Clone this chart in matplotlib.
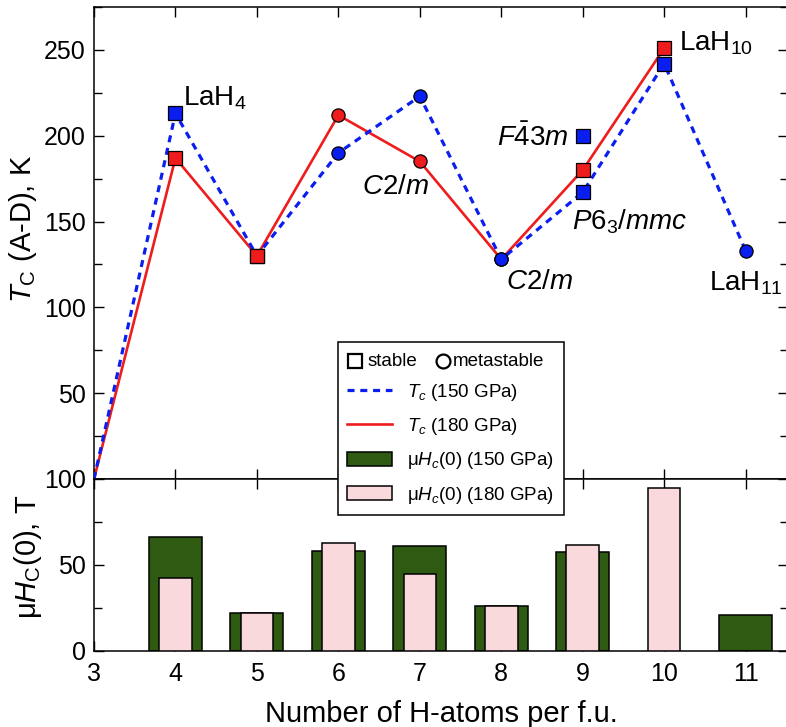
import matplotlib
matplotlib.use("Agg")
import matplotlib.pyplot as plt
from matplotlib.lines import Line2D
from matplotlib.patches import Patch
from matplotlib.ticker import MultipleLocator

plt.rcParams['font.family'] = ['Liberation Sans', 'DejaVu Sans']
plt.rcParams['mathtext.fontset'] = 'custom'
plt.rcParams['mathtext.rm'] = 'Liberation Sans'
plt.rcParams['mathtext.it'] = 'Liberation Sans:italic'
plt.rcParams['mathtext.bf'] = 'Liberation Sans:bold'

# Tc at 150 GPa (blue, dashed), 's' = stable, 'o' = metastable
n_h_150 = [3, 4, 5, 6, 7, 8, 9, 10, 11]
tc_150 = [0, 213, 130, 190, 223, 128, 167, 242, 133]
phase_150 = ['', 's', 's', 'o', 'o', 'o', 's', 's', 'o']

# Tc at 180 GPa (red, solid)
n_h_180 = [3, 4, 5, 6, 7, 8, 9, 10]
tc_180 = [0, 187, 130, 212, 185, 128, 180, 251]
phase_180 = ['', 's', 's', 'o', 'o', 'o', 's', 's']

# extra F-43m point at 150 GPa
n_h_extra = [9]
tc_extra = [200]

# critical field muHc(0)
n_h_hc150 = [4, 5, 6, 7, 8, 9, 11]
hc_150 = [66, 22, 58, 61, 26, 57.5, 21]
n_h_hc180 = [4, 5, 6, 7, 8, 9, 10]
hc_180 = [42.5, 22, 63, 45, 26, 61.5, 95]

BLUE = '#0a1ef0'
RED = '#ee1c1c'
GREEN = '#2f5a12'
PINK = '#fad9dc'

W, H = 786, 727
fig = plt.figure(figsize=(W / 100, H / 100), dpi=100)
ax1 = fig.add_axes([94 / W, 1 - 479 / H, (788 - 94) / W, (479 - 7) / H])
ax2 = fig.add_axes([94 / W, 1 - 651 / H, (788 - 94) / W, 172 / H], sharex=ax1)

# top panel: Tc lines
ax1.plot(n_h_180, tc_180, color=RED, lw=1.9, zorder=2)
ax1.plot(n_h_150, tc_150, color=BLUE, lw=2.3, ls=(0, (2.2, 1.8)), zorder=3)

for x, y, m in zip(n_h_150, tc_150, phase_150):
    if m:
        ax1.plot(x, y, marker=m, ms=9.5, mfc=BLUE, mec='k', mew=0.9, ls='none', zorder=4)
for x, y, m in zip(n_h_180, tc_180, phase_180):
    if m:
        z = 3.5 if x == 8 else 5
        ax1.plot(x, y, marker=m, ms=9.5, mfc=RED, mec='k', mew=0.9, ls='none', zorder=z)
ax1.plot(n_h_extra, tc_extra, marker='s', ms=9.5, mfc=BLUE, mec='k', mew=0.9, ls='none', zorder=4)

fs_ann = 20
ax1.text(4.09, 222, r"LaH$_4$", fontsize=fs_ann, ha='left', va='center')
ax1.text(10.18, 254, r"LaH$_{10}$", fontsize=fs_ann, ha='left', va='center')
ax1.text(11.0, 114, r"LaH$_{11}$", fontsize=fs_ann, ha='center', va='center')
ax1.text(8.83, 199, r"$F\bar{4}3m$", fontsize=fs_ann, ha='right', va='center')
ax1.text(8.87, 150, r"$P6_3/mmc$", fontsize=fs_ann, ha='left', va='center')
ax1.text(8.06, 115, r"$C2/m$", fontsize=fs_ann, ha='left', va='center')
ax1.text(6.29, 170, r"$C2/m$", fontsize=fs_ann, ha='left', va='center')

ax1.set_xlim(3, 11.52)
ax1.set_ylim(0, 275)
ax1.set_yticks([50, 100, 150, 200, 250])
ax1.yaxis.set_minor_locator(MultipleLocator(25))
ax1.set_ylabel(r"$T_\mathrm{C}$ (A-D), K", fontsize=21)
ax1.yaxis.set_label_coords(-0.079, 0.53)
ax1.tick_params(labelbottom=False)

# bottom panel: critical field bars
ax2.bar(n_h_hc150, hc_150, width=0.65, color=GREEN, edgecolor='k', lw=1.1, zorder=2)
ax2.bar(n_h_hc180, hc_180, width=0.4, color=PINK, edgecolor='k', lw=1.1, zorder=3)
ax2.set_ylim(0, 100)
ax2.set_yticks([0, 50, 100])
ax2.yaxis.set_minor_locator(MultipleLocator(25))
ax2.set_xticks(range(3, 12))
ax2.set_ylabel(r"μ$H_\mathrm{C}$(0), T", fontsize=21)
ax2.yaxis.set_label_coords(-0.072, 0.55)
ax2.set_xlabel("Number of H-atoms per f.u.", fontsize=21, labelpad=10)

for ax in (ax1, ax2):
    for s in ax.spines.values():
        s.set_linewidth(1.1)
    ax.tick_params(which='both', direction='in', top=True, right=True,
                   labelsize=18, width=1.0, pad=6)
    ax.tick_params(which='major', length=7)
    ax.tick_params(which='minor', length=6)
ax2.tick_params(axis='x', pad=8)

# legend, first row is drawn by hand (square + stable, circle + metastable)
handles = [
    Line2D([], [], ls='none'),
    Line2D([], [], color=BLUE, lw=2.3, ls=(0, (2.2, 1.8))),
    Line2D([], [], color=RED, lw=1.9),
    Patch(facecolor=GREEN, edgecolor='k', lw=1.1),
    Patch(facecolor=PINK, edgecolor='k', lw=1.1),
]
labels = [" ", r"$T_c$ (150 GPa)", r"$T_c$ (180 GPa)",
          r"μ$H_c$(0) (150 GPa)", r"μ$H_c$(0) (180 GPa)"]
leg = fig.legend(handles, labels, loc='upper left',
                 bbox_to_anchor=(338 / W, 1 - 342 / H), borderaxespad=0,
                 fontsize=13.5, handlelength=2.4, handleheight=0.8,
                 labelspacing=0.7, borderpad=0.5, fancybox=False,
                 framealpha=1, edgecolor='k')
leg.get_frame().set_linewidth(1.1)

row_y = 1 - 361 / H
fig.add_artist(Line2D([355 / W], [row_y], marker='s', ms=10, mfc='white', mec='k',
                      mew=1.6, ls='none', transform=fig.transFigure, zorder=7))
fig.text(368 / W, row_y, "stable", fontsize=13.5, va='center', ha='left', zorder=7)
fig.add_artist(Line2D([443 / W], [row_y], marker='o', ms=10, mfc='white', mec='k',
                      mew=1.6, ls='none', transform=fig.transFigure, zorder=7))
fig.text(453 / W, row_y, "metastable", fontsize=13.5, va='center', ha='left', zorder=7)

fig.savefig("out.png", dpi=100)
